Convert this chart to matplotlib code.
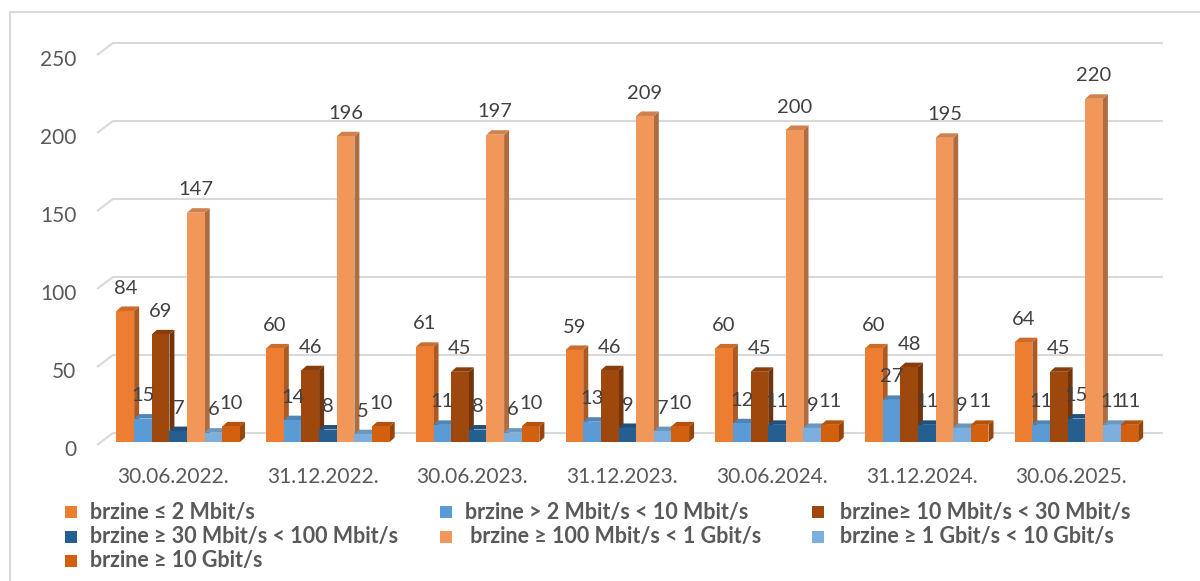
import matplotlib
matplotlib.use("Agg")
import matplotlib.pyplot as plt
import matplotlib.transforms as mtrans
from matplotlib.patches import Rectangle
from matplotlib.lines import Line2D
import numpy as np

# ---------------- data ----------------
categories = ["30.06.2022.", "31.12.2022.", "30.06.2023.", "31.12.2023.",
              "30.06.2024.", "31.12.2024.", "30.06.2025."]
series_names = ["brzine \u2264 2 Mbit/s",
                "brzine > 2 Mbit/s < 10 Mbit/s",
                "brzine\u2265 10 Mbit/s < 30 Mbit/s",
                "brzine \u2265 30 Mbit/s < 100 Mbit/s",
                " brzine \u2265 100 Mbit/s < 1 Gbit/s",
                "brzine \u2265 1 Gbit/s < 10 Gbit/s",
                "brzine \u2265 10 Gbit/s"]
s_le2 = [84, 60, 61, 59, 60, 60, 64]
s_2_10 = [15, 14, 11, 13, 12, 27, 11]
s_10_30 = [69, 46, 45, 46, 45, 48, 45]
s_30_100 = [7, 8, 8, 9, 11, 11, 15]
s_100_1g = [147, 196, 197, 209, 200, 195, 220]
s_1g_10g = [6, 5, 6, 7, 9, 9, 11]
s_ge10g = [10, 10, 10, 10, 11, 11, 11]
series = [s_le2, s_2_10, s_10_30, s_30_100, s_100_1g, s_1g_10g, s_ge10g]
colors = ["#ED7D31", "#5B9BD5", "#9E480E", "#255E91", "#F1975A", "#7CAFDD", "#D2600F"]
y_ticks = [0, 50, 100, 150, 200, 250]

# ---------------- layout ----------------
W, H = 1200, 581
FONT = ["Lato", "DejaVu Sans"]
plt.rcParams["font.family"] = FONT

fig = plt.figure(figsize=(W / 100, H / 100), dpi=100)
# pixel geometry of the plot (front plane)
PX_LEFT, PX_RIGHT = 97, 1163
PX_Y0, PX_Y250 = 442, 52
PX_TICK0, PX_STEP = 173, 149.7

ax = fig.add_axes([PX_LEFT / W, (H - PX_Y0) / H,
                   (PX_RIGHT - PX_LEFT) / W, (PX_Y0 - PX_Y250) / H])
ax.set_xlim((PX_LEFT - PX_TICK0) / PX_STEP, (PX_RIGHT - PX_TICK0) / PX_STEP)
ax.set_ylim(0, 250)
for sp in ax.spines.values():
    sp.set_visible(False)
ax.patch.set_alpha(0)

px_per_unit = (PX_Y0 - PX_Y250) / 250.0
def xu(px):  # pixel width -> x data units
    return px / PX_STEP
def yu(px):  # pixel height -> y data units
    return px / px_per_unit

# back wall grid lines with left side wall slant
grid_c = "#D9D9D9"
back_dy = yu(9)
x_wall_front = (PX_LEFT - PX_TICK0) / PX_STEP
x_wall_back = (113 - PX_TICK0) / PX_STEP
for v in y_ticks:
    ax.plot([x_wall_front, x_wall_back, ax.get_xlim()[1]],
            [v - yu(3), v + back_dy, v + back_dy],
            color=grid_c, lw=1.5, clip_on=False, zorder=0, solid_capstyle="butt")

# 3D-style bars
bar_w = xu(17.64)
start_off = xu(-56.5)
dx, dy = xu(5), yu(4.5)

def shade(c, f):
    r, g, b = matplotlib.colors.to_rgb(c)
    return (r * f, g * f, b * f)

x_idx = np.arange(len(categories))
for j, (vals, col) in enumerate(zip(series, colors)):
    lefts = x_idx + start_off + j * bar_w
    for L, v in zip(lefts, vals):
        R = L + bar_w
        # side face
        ax.fill([R, R + dx, R + dx, R], [0, dy, v + dy, v],
                color=shade(col, 0.72), lw=0, zorder=2 + j)
        # top face
        ax.fill([L, L + dx, R + dx, R], [v, v + dy, v + dy, v],
                color=shade(col, 0.86), lw=0, zorder=2 + j)
    ax.bar(lefts, vals, width=bar_w, align="edge", color=col, lw=0,
           zorder=2 + j, label=series_names[j])
    for L, v in zip(lefts, vals):
        ax.annotate(str(v), (L + bar_w / 2, v), xytext=(0, 16.5),
                    textcoords="offset points", ha="center", va="center",
                    fontsize=14.5, color="#404040", zorder=20)

# y ticks
ax.set_yticks(y_ticks)
ax.set_yticklabels([str(t) for t in y_ticks], fontsize=15, color="#595959")
ax.tick_params(axis="y", length=0, pad=15)
off = mtrans.ScaledTranslation(0, -5.5 / 100, fig.dpi_scale_trans)
for lab in ax.get_yticklabels():
    lab.set_transform(lab.get_transform() + off)

# x ticks
ax.set_xticks(x_idx)
ax.set_xticklabels(categories, fontsize=15, color="#595959")
ax.tick_params(axis="x", length=0, pad=18)

# legend (three columns, row-wise order)
leg_cols_sq = [65, 440, 812]
leg_cols_tx = [90, 465, 840]
leg_rows = [512, 537, 561]
for k, (name, col) in enumerate(zip(series_names, colors)):
    r, c = divmod(k, 3)
    sq = 12
    fig.patches.append(Rectangle((leg_cols_sq[c] / W, (H - leg_rows[r] - sq / 2) / H),
                                 sq / W, sq / H, transform=fig.transFigure,
                                 facecolor=col, edgecolor="none"))
    fig.text(leg_cols_tx[c] / W, (H - leg_rows[r]) / H, name, ha="left", va="center",
             fontsize=15.5, fontweight="bold", color="#595959")

# outer chart border
fig.lines.append(Line2D([10 / W, 10 / W], [0, (H - 12) / H], transform=fig.transFigure,
                        color="#D9D9D9", lw=1.5))
fig.lines.append(Line2D([10 / W, 1], [(H - 12) / H, (H - 12) / H], transform=fig.transFigure,
                        color="#D9D9D9", lw=1.5))

fig.savefig("out.png", dpi=100)
